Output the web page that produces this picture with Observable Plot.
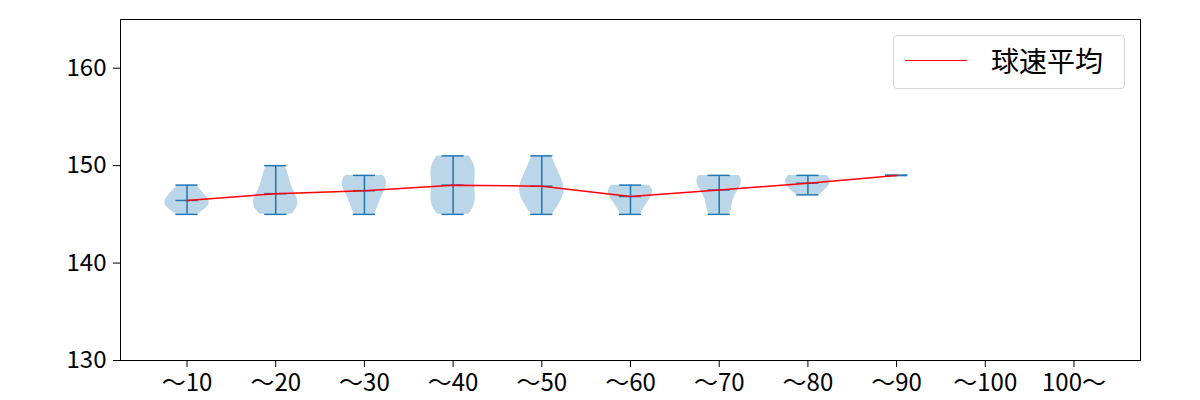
<!DOCTYPE html>
<html><head><meta charset="utf-8">
<script src="https://cdn.jsdelivr.net/npm/d3@7"></script>
<script src="https://cdn.jsdelivr.net/npm/@observablehq/plot@0.6"></script>
<style>
body{margin:0;background:#fff;}
#wrap{position:relative;width:1200px;height:400px;}
#legend{position:absolute;left:893px;top:35px;width:232px;height:54px;border:1px solid #d6d6d6;border-radius:4px;background:rgba(255,255,255,0.8);box-sizing:border-box;font-family:"Noto Sans CJK JP","Noto Sans",sans-serif;font-size:28px;color:#000;}
#legend .ln{position:absolute;left:11px;top:24px;width:62px;height:0;border-top:1.5px solid red;}
#legend .tx{position:absolute;left:97px;top:9px;line-height:30px;white-space:nowrap;}
</style></head><body>
<div id="wrap"><div id="legend"><div class="ln"></div><div class="tx">球速平均</div></div></div>
<script>
const categories = ["～10","～20","～30","～40","～50","～60","～70","～80","～90","～100","100～"];
const s10 = [145,146,146,146,147,147,148];
const s20 = [145,146,146,146,147,148,149,150];
const s30 = [145,146,147,148,148,149,149];
const s40 = [145,146,146,147,148,149,150,150,151];
const s50 = [145,146,147,147,148,148,149,150,151];
const s60 = [145,146,147,147,148,148];
const s70 = [145,146,148,148,149,149];
const s80 = [147,148,148,149,149];
const s90 = [149];
const s100 = [];
const s100p = [];
const yTicks = [130,140,150,160];

const series = [s10,s20,s30,s40,s50,s60,s70,s80,s90,s100,s100p];
const positions = categories.map((c,i)=>i+1);

const violinRows = [], barRows = [], capRows = [], meanRows = [];
series.forEach((d,i)=>{
  if (!d.length) return;
  const pos = i+1;
  const mn = d3.min(d), mx = d3.max(d), mean = d3.mean(d);
  meanRows.push({pos, mean});
  barRows.push({pos, y1: mn, y2: mx});
  [mn, mx, mean].forEach(v => capRows.push({x1: pos-0.125, x2: pos+0.125, y: v}));
  if (d.length > 1 && d3.deviation(d) > 0) {
    const bw = d3.deviation(d) * Math.pow(d.length, -0.2);
    const N = 100;
    const coords = d3.range(N).map(k => mn + (mx-mn)*k/(N-1));
    const dens = coords.map(c => d3.sum(d, x => Math.exp(-0.5*((c-x)/bw)**2)));
    const dm = d3.max(dens);
    coords.forEach((c,k)=>{
      const w = 0.25*dens[k]/dm;
      violinRows.push({cat: pos, y: c, x1: pos-w, x2: pos+w});
    });
  }
});

const FONT = '"Noto Sans CJK JP","Noto Sans",sans-serif';
const chart = Plot.plot({
  width: 1200, height: 400,
  marginLeft: 120, marginRight: 60, marginTop: 19, marginBottom: 40,
  style: {fontFamily: FONT, fontSize: "24px", color: "#000", background: "#fff"},
  x: {domain: [0.25, 11.75]},
  y: {domain: [130, 165]},
  marks: [
    Plot.areaX(violinRows, {y: "y", x1: "x1", x2: "x2", z: "cat", fill: "#1f77b4", fillOpacity: 0.3, curve: "linear"}),
    Plot.ruleX(barRows, {x: "pos", y1: "y1", y2: "y2", stroke: "#1f77b4", strokeWidth: 1.5}),
    Plot.ruleY(capRows, {y: "y", x1: "x1", x2: "x2", stroke: "#1f77b4", strokeWidth: 1.5}),
    Plot.line(meanRows, {x: "pos", y: "mean", stroke: "red", strokeWidth: 1.5}),
    Plot.axisY({ticks: yTicks, tickSize: 7, tickPadding: 7, label: null, stroke: "#000", fontSize: 24, fontFamily: FONT}),
    Plot.axisX({ticks: positions, tickFormat: p => categories[p-1], tickSize: 7, tickPadding: 6, label: null, stroke: "#000", fontSize: 24, fontFamily: FONT}),
    Plot.frame({stroke: "#000", strokeWidth: 1})
  ]
});
document.getElementById("wrap").prepend(chart);
chart.style.position = "absolute"; chart.style.left = "0"; chart.style.top = "0";
document.getElementById("legend").style.zIndex = 2;
</script>
</body></html>
